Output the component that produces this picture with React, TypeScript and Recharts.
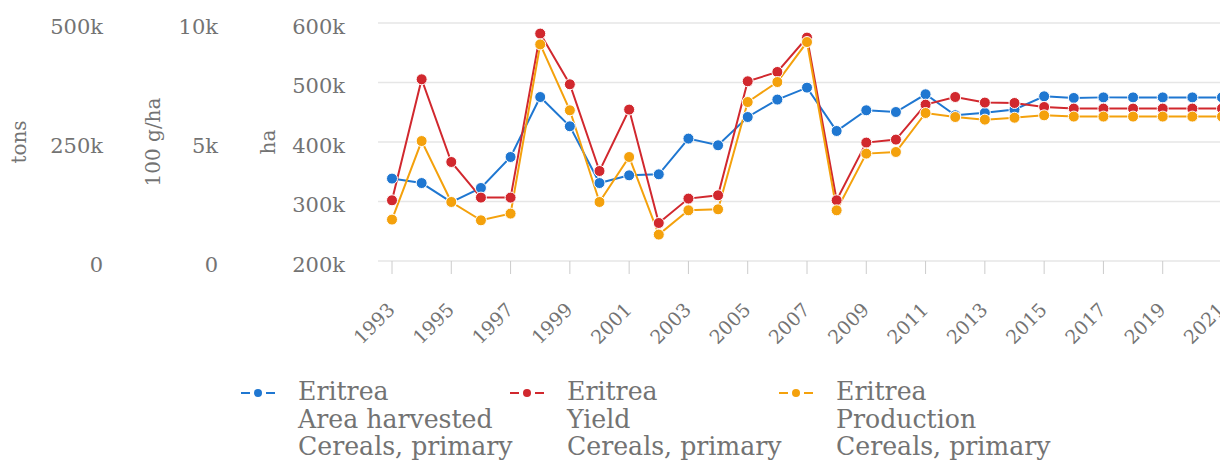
import React from 'react';
import { LineChart, Line, XAxis, YAxis, CartesianGrid, Legend } from 'recharts';

const years = [1993, 1994, 1995, 1996, 1997, 1998, 1999, 2000, 2001, 2002, 2003, 2004, 2005, 2006, 2007, 2008, 2009, 2010, 2011, 2012, 2013, 2014, 2015, 2016, 2017, 2018, 2019, 2020, 2021];

// Area harvested (ha)
const areaHarvested = [338500, 331000, 299000, 322700, 374800, 475600, 426400, 331000, 344000, 345700, 405700, 394500, 442000, 471300, 491400, 418500, 453300, 450400, 480200, 445000, 449000, 454500, 476800, 474000, 475000, 475000, 475000, 475000, 475000];

// Yield (100 g/ha)
const yieldValues = [2551, 7635, 4160, 2664, 2664, 9555, 7425, 3782, 6362, 1597, 2622, 2761, 7551, 7942, 9387, 2551, 4975, 5101, 6570, 6891, 6656, 6639, 6471, 6404, 6404, 6404, 6404, 6404, 6404];

// Production (tons)
const production = [87000, 252000, 124000, 85500, 99600, 455000, 316600, 124000, 218500, 55500, 106500, 108600, 334000, 376000, 460000, 106500, 225600, 229000, 310900, 302500, 297000, 301000, 306000, 303400, 303400, 303400, 303400, 303400, 303400];

const xTicks = [1993, 1995, 1997, 1999, 2001, 2003, 2005, 2007, 2009, 2011, 2013, 2015, 2017, 2019, 2021];
const haTicks = [200000, 300000, 400000, 500000, 600000];
const yieldTicks = [0, 5000, 10000];
const tonsTicks = [0, 250000, 500000];

const country = 'Eritrea';
const itemName = 'Cereals, primary';

const seriesInfo = [
  { key: 'area', element: 'Area harvested', color: '#1f77d1', axis: 'a_ha' },
  { key: 'yield', element: 'Yield', color: '#d1282e', axis: 'b_yield' },
  { key: 'production', element: 'Production', color: '#f4a10c', axis: 'c_tons' },
];

const data = years.map((y, i) => ({
  year: y,
  area: areaHarvested[i],
  yield: yieldValues[i],
  production: production[i],
}));

const FONT = "'DejaVu Serif', serif";
const TEXT = '#737373';

const fmtK = (v: number) => (v === 0 ? '0' : `${v / 1000}k`);

const axisTitle = (text: string, off: number) => (props: any) => {
  const vb = props.viewBox || {};
  const cx = vb.x + off;
  const cy = vb.y + vb.height / 2;
  return (
    <text
      x={cx}
      y={cy}
      transform={`rotate(-90 ${cx} ${cy})`}
      textAnchor="middle"
      dominantBaseline="central"
      fill={TEXT}
      fontSize={20}
      fontFamily={FONT}
    >
      {text}
    </text>
  );
};

const XTick = (props: any) => {
  const { x, y, payload } = props;
  const ax = x + 4;
  const ay = y + 37;
  return (
    <text
      x={ax}
      y={ay}
      textAnchor="end"
      transform={`rotate(-45 ${ax} ${ay})`}
      fill={TEXT}
      fontSize={19}
      fontFamily={FONT}
    >
      {payload.value}
    </text>
  );
};

const LegendContent = () => (
  <div
    style={{
      display: 'flex',
      height: 90,
      boxSizing: 'border-box',
      paddingLeft: 233,
      paddingTop: 5,
      fontFamily: FONT,
      fontSize: 25.2,
      lineHeight: '27.5px',
      color: TEXT,
    }}
  >
    {seriesInfo.map((s) => (
      <div key={s.key} style={{ display: 'flex', width: 269, flexShrink: 0 }}>
        <svg width={34} height={28} style={{ marginRight: 23, flexShrink: 0 }}>
          <line x1={0} x2={9} y1={15} y2={15} stroke={s.color} strokeWidth={2} />
          <circle cx={17} cy={15} r={4} fill={s.color} />
          <line x1={25} x2={34} y1={15} y2={15} stroke={s.color} strokeWidth={2} />
        </svg>
        <div style={{ whiteSpace: 'nowrap' }}>
          <div>{country}</div>
          <div>{s.element}</div>
          <div>{itemName}</div>
        </div>
      </div>
    ))}
  </div>
);

const tickStyle = { fill: TEXT, fontSize: 21, fontFamily: FONT, dy: 3.5 };

export default function App() {
  return (
    <div style={{ width: 1220, height: 455, overflow: 'hidden' }}>
      <LineChart
        width={1228}
        height={455}
        data={data}
        margin={{ top: 15, right: 0, bottom: 0, left: 0 }}
      >
        <CartesianGrid yAxisId="a_ha" vertical={false} stroke="#e6e6e6" strokeWidth={1.5} />
        <XAxis
          dataKey="year"
          type="number"
          domain={[1993, 2021]}
          ticks={xTicks}
          interval={0}
          padding={{ left: 14, right: 14 }}
          axisLine={false}
          tickLine={{ stroke: '#cccccc' }}
          tickSize={13}
          tickMargin={0}
          height={112}
          tick={<XTick />}
        />
        <YAxis
          yAxisId="a_ha"
          orientation="left"
          width={130}
          domain={[200000, 600000]}
          ticks={haTicks}
          tickFormatter={fmtK}
          axisLine={false}
          tickLine={false}
          tickSize={0}
          tickMargin={33}
          tick={tickStyle}
          label={{ content: axisTitle('ha', 20) }}
        />
        <YAxis
          yAxisId="b_yield"
          orientation="left"
          width={130}
          domain={[0, 10000]}
          ticks={yieldTicks}
          tickFormatter={fmtK}
          axisLine={false}
          tickLine={false}
          tickSize={0}
          tickMargin={30}
          tick={tickStyle}
          label={{ content: axisTitle('100 g/ha', 35) }}
        />
        <YAxis
          yAxisId="c_tons"
          orientation="left"
          width={110}
          domain={[0, 500000]}
          ticks={tonsTicks}
          tickFormatter={fmtK}
          axisLine={false}
          tickLine={false}
          tickSize={0}
          tickMargin={15}
          tick={tickStyle}
          label={{ content: axisTitle('tons', 11) }}
        />
        {seriesInfo.map((s) => (
          <Line
            key={s.key}
            yAxisId={s.axis}
            dataKey={s.key}
            name={s.element}
            type="linear"
            stroke={s.color}
            strokeWidth={2}
            dot={{ r: 5.5, fill: s.color, stroke: '#ffffff', strokeWidth: 1 }}
            activeDot={false}
            isAnimationActive={false}
          />
        ))}
        <Legend
          verticalAlign="bottom"
          wrapperStyle={{ left: 0, width: 1228 }}
          content={<LegendContent />}
        />
      </LineChart>
    </div>
  );
}
